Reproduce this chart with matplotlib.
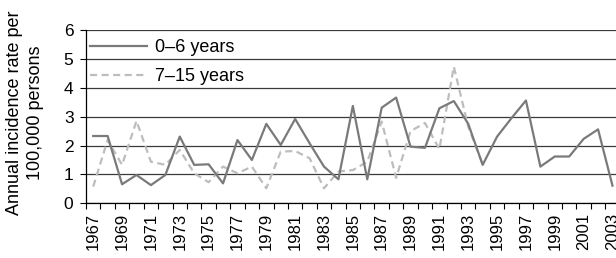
import matplotlib
matplotlib.use("Agg")
import matplotlib.pyplot as plt

plt.rcParams['font.family'] = ['Liberation Sans', 'DejaVu Sans']

years = list(range(1967, 2004))
age_0_6 = [2.33, 2.33, 0.66, 0.98, 0.63, 0.98, 2.31, 1.33, 1.35, 0.69,
           2.19, 1.50, 2.75, 2.02, 2.92, 2.08, 1.27, 0.83, 3.37, 0.83,
           3.31, 3.66, 1.96, 1.92, 3.29, 3.54, 2.75, 1.33, 2.31, 2.95,
           3.56, 1.27, 1.62, 1.62, 2.23, 2.56, 0.61]
age_7_15 = [0.58, 2.19, 1.33, 2.85, 1.44, 1.33, 1.85, 1.04, 0.73, 1.27,
            1.04, 1.27, 0.52, 1.79, 1.81, 1.56, 0.52, 1.10, 1.15, 1.44,
            2.83, 0.88, 2.50, 2.78, 1.88, 4.73, 2.65, 1.35]
series_labels = ['0\u20136 years', '7\u201315 years']
y_label = 'Annual incidence rate per\n100,000 persons'

W, H = 616, 258
fig = plt.figure(figsize=(W/100, H/100), dpi=100)
x0, x1 = 86, 619.7
ytop, ybot = 30, 203.3
ax = fig.add_axes([x0/W, 1 - ybot/H, (x1 - x0)/W, (ybot - ytop)/H])

xs = list(range(len(years)))
ax.plot(xs, age_0_6, color='#7a7a7a', lw=1.6, label=series_labels[0], zorder=3)
ax.plot(xs[:len(age_7_15)], age_7_15, color='#bdbdbd', lw=1.6,
        dashes=(3.2, 2.0), label=series_labels[1], zorder=2)

ax.set_xlim(-0.5, len(years) - 0.5)
ax.set_ylim(0, 6)
ax.set_yticks(range(0, 7))
ax.yaxis.grid(True, color='#3a3a3a', lw=0.9)
ax.set_axisbelow(True)

ax.set_xticks(xs[::2])
ax.set_xticklabels([str(y) for y in years[::2]], rotation=90, fontsize=12)
ax.set_xticks([i - 0.5 for i in range(len(years) + 1)], minor=True)
ax.tick_params(axis='x', which='major', length=0, pad=7)
ax.tick_params(axis='x', which='minor', length=4, width=0.8, direction='out')
ax.tick_params(axis='y', length=4, width=0.8, direction='out', labelsize=12.5, pad=5)

for s in ['top', 'right']:
    ax.spines[s].set_visible(False)
ax.spines['left'].set_linewidth(0.9)
ax.spines['bottom'].set_linewidth(0.9)

leg = ax.legend(loc='upper left', bbox_to_anchor=(-0.006, 0.99), frameon=False,
                fontsize=13, handlelength=3.15, handletextpad=0.45,
                labelspacing=0.68, borderaxespad=0.0)

fig.text(25/W, 1 - 113/H, y_label, rotation=90, ha='center', va='center',
         fontsize=13, multialignment='center', linespacing=1.27)

fig.savefig('out.png', dpi=100)
